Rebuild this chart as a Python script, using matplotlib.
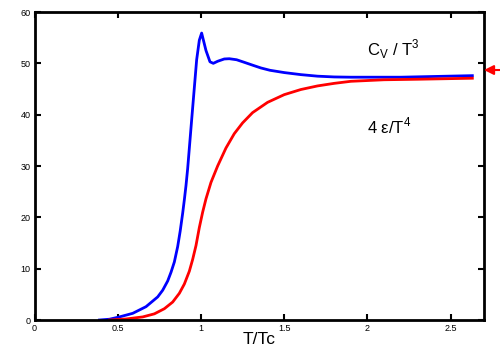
import matplotlib
matplotlib.use("Agg")
import matplotlib.pyplot as plt

plt.rcParams['font.family'] = ['Liberation Sans', 'DejaVu Sans']

# Blue: C_V / T^3
cv_x = [0.39, 0.45, 0.51, 0.59, 0.67, 0.74, 0.77, 0.80, 0.82, 0.84, 0.86,
        0.875, 0.89, 0.90, 0.91, 0.92, 0.944, 0.974, 0.99, 1.004, 1.03,
        1.054, 1.074, 1.10, 1.14, 1.17, 1.214, 1.26, 1.314, 1.36, 1.414,
        1.5, 1.6, 1.7, 1.8, 1.9, 2.2, 2.63]
cv_y = [0.0, 0.15, 0.6, 1.3, 2.6, 4.5, 5.8, 7.6, 9.3, 11.3, 14.3,
        17.3, 20.8, 23.4, 26.2, 29.5, 39.0, 50.7, 54.5, 55.9, 52.5,
        50.3, 50.0, 50.4, 50.85, 50.9, 50.7, 50.2, 49.6, 49.1, 48.65,
        48.2, 47.8, 47.5, 47.35, 47.3, 47.3, 47.6]

# Red: 4 eps / T^4
e_x = [0.45, 0.55, 0.65, 0.72, 0.78, 0.83, 0.87, 0.90, 0.93, 0.95, 0.97,
       0.99, 1.01, 1.03, 1.06, 1.10, 1.15, 1.20, 1.25, 1.31, 1.40, 1.50,
       1.60, 1.70, 1.80, 1.90, 2.1, 2.3, 2.63]
e_y = [0.0, 0.2, 0.6, 1.2, 2.2, 3.5, 5.2, 7.0, 9.5, 11.8, 14.5,
       18.0, 21.0, 23.6, 26.8, 30.0, 33.5, 36.3, 38.4, 40.4, 42.4, 43.9,
       44.9, 45.6, 46.1, 46.5, 46.8, 46.9, 47.1]

arrow_y = 48.7

xticks = [0, 0.5, 1, 1.5, 2, 2.5]
xticklabels = ['0', '0.5', '1', '1.5', '2', '2.5']
yticks = [0, 10, 20, 30, 40, 50, 60]

fig = plt.figure(figsize=(5, 3.5), dpi=100)
ax = fig.add_axes([0.069, 0.0857, 0.899, 0.88])
ax.plot(cv_x, cv_y, color='#0000ff', lw=2, solid_joinstyle='round')
ax.plot(e_x, e_y, color='#ff0000', lw=2, solid_joinstyle='round')
ax.set_xlim(0, 2.70)
ax.set_ylim(0, 60)
ax.set_xticks(xticks)
ax.set_xticklabels(xticklabels)
ax.set_yticks(yticks)
ax.tick_params(direction='in', top=True, right=True, length=4, width=1.5,
               labelsize=6.5, pad=3)
ax.tick_params(axis='x', labeltop=False)
for s in ax.spines.values():
    s.set_linewidth(2)
ax.text(1.995, 51.6, r'C$_\mathregular{V}$ / T$^\mathregular{3}$', fontsize=12)
ax.text(1.995, 36.3, r'4 $\mathregular{\epsilon}$/T$^\mathregular{4}$', fontsize=12)
ax.set_xlabel('T/Tc', fontsize=12.5, labelpad=-1)
ax.annotate('', xy=(2.70, arrow_y), xytext=(2.80, arrow_y),
            xycoords='data', textcoords='data', annotation_clip=False,
            arrowprops=dict(arrowstyle='-|>', color='#ff0000', lw=1.5,
                            mutation_scale=14, shrinkA=0, shrinkB=0))
fig.savefig('out.png', dpi=100)
